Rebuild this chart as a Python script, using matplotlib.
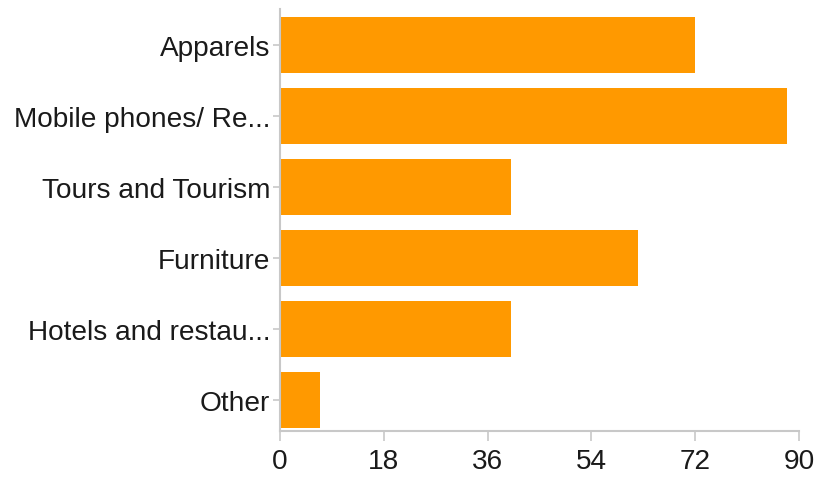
import matplotlib
matplotlib.use("Agg")
import matplotlib.pyplot as plt

categories = ["Apparels", "Mobile phones/ Re...", "Tours and Tourism",
              "Furniture", "Hotels and restau...", "Other"]
values = [72, 88, 40, 62, 40, 7]
xticks = [0, 18, 36, 54, 72, 90]

plt.rcParams["font.family"] = ["Liberation Sans", "DejaVu Sans"]

fig = plt.figure(figsize=(8.19, 4.85), dpi=100)
ax = fig.add_axes([280 / 819, 53 / 485, 519 / 819, 422 / 485])

ypos = list(range(len(categories)))
ax.barh(ypos, values, height=0.79, color="#ff9900", zorder=2)

ax.set_xlim(0, 90)
ax.set_ylim(5.437, -0.507)
ax.set_xticks(xticks)
ax.set_xticklabels([str(t) for t in xticks])
ax.set_yticks(ypos)
ax.set_yticklabels(categories)

for side in ("top", "right"):
    ax.spines[side].set_visible(False)
for side in ("left", "bottom"):
    ax.spines[side].set_color("#c8c8c8")
    ax.spines[side].set_linewidth(1.5)

ax.tick_params(axis="both", colors="#c8c8c8", labelcolor="#1a1a1a",
               labelsize=20.2, width=1.2)
ax.tick_params(axis="x", length=7, pad=5)
ax.tick_params(axis="y", length=5, pad=2)

fig.savefig("out.png", dpi=100)
